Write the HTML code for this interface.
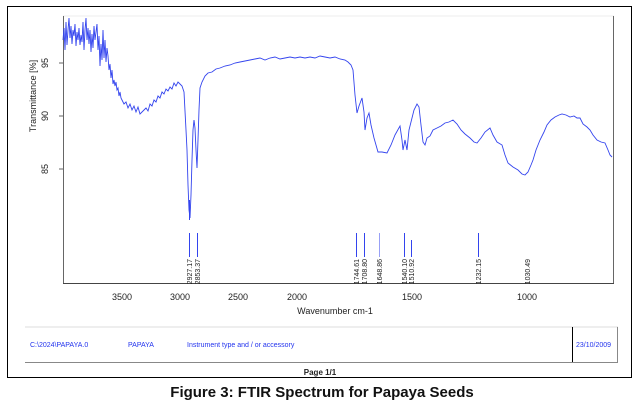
<!DOCTYPE html>
<html><head><style>
body{margin:0;background:#fff;width:640px;height:409px;overflow:hidden;font-family:"Liberation Sans",sans-serif}
</style></head><body>
<svg width="640" height="409" viewBox="0 0 640 409" xmlns="http://www.w3.org/2000/svg" font-family="Liberation Sans, sans-serif">
<rect x="7.5" y="6.5" width="624" height="371" fill="none" stroke="#000" stroke-width="1"/>
<line x1="63" y1="16" x2="614" y2="16" stroke="#eee"/>
<line x1="63.5" y1="16" x2="63.5" y2="283" stroke="#666"/>
<line x1="613.5" y1="16" x2="613.5" y2="283" stroke="#666"/>
<line x1="63" y1="283.5" x2="614" y2="283.5" stroke="#444"/>
<g stroke="#666"><line x1="59" y1="63" x2="63" y2="63"/><line x1="59" y1="116" x2="63" y2="116"/><line x1="59" y1="169" x2="63" y2="169"/></g>
<g font-size="9" fill="#222" text-anchor="middle">
<text transform="translate(48,63) rotate(-90)">95</text>
<text transform="translate(48,116) rotate(-90)">90</text>
<text transform="translate(48,169) rotate(-90)">85</text>
<text transform="translate(36,96) rotate(-90)">Transmittance [%]</text>
<text x="122" y="300">3500</text><text x="180" y="300">3000</text><text x="238" y="300">2500</text>
<text x="297" y="300">2000</text><text x="412" y="300">1500</text><text x="527" y="300">1000</text>
<text x="335" y="314">Wavenumber cm-1</text>
</g>
<polyline fill="none" stroke="#3344ee" stroke-width="0.9" points="
63,40 64,28 65,50 66,22 67,45 68,30 69,18 70,38 71,26 72,44 73,30 74,36 75,24 76,46 77,32 78,40 79,28 80,45 81,35 82,42 83,22 84,50 85,30 86,18 87,40 88,28 89,44 90,30 91,52 92,34 93,48 94,26 95,40 96,32 97,24 98,50 99,36 100,66 101,44 102,60 103,30 104,58 105,40 106,62 107,48 108,56 109,70 110,64 111,78 112,70 113,84 114,80 115,86 116,82 117,90 118,88 119,96 120,92 121,98 122,100 124,104 126,102 128,108 130,104 132,110 134,106 136,112 138,107 140,114 142,112 144,110 146,108 148,111 150,104 152,106 154,100 156,102 158,96 160,98 162,92 164,94 166,89 168,91 170,87 172,89 174,83 176,86 178,82 180,84 182,86 184,92 186,130 187,150 188,185 189,210 190,218 191,195 192,160 193,130 194,120 195,128 196,150 197,168 198,140 199,110 200,88 202,82 205,76 208,73 212,72 216,69 220,68 225,66 230,65 235,63 240,62 245,61 250,60 255,59 260,58 265,60 270,58 275,57 280,59 285,58 290,57 295,58 300,57 305,58 310,57 315,58 320,56 325,57 330,58 335,57 340,59 345,60 348,62 351,65 353,70 355,95 357,113 359,106 362,98 364,112 365,130 367,118 369,113 371,125 374,138 378,152 382,152 387,153 391,145 395,135 400,126 402,140 403,150 405,140 407,150 409,130 412,118 414,110 417,104 419,107 421,125 423,142 425,145 427,138 430,136 433,130 437,128 441,126 445,123 449,122 453,120 457,124 461,130 465,134 470,138 474,142 477,143 481,138 485,132 490,128 493,135 497,142 502,145 505,155 508,163 513,167 518,170 522,174 525,175 528,172 531,165 533,160 536,150 540,140 544,132 547,125 551,120 555,117 559,115 562,114 566,115 570,117 574,116 577,118 580,118 583,124 587,127 590,130 593,135 597,140 601,142 605,143 608,150 610,155 612,157"/>
<g stroke="#3344ee" stroke-width="1">
<line x1="189.5" y1="200" x2="189.5" y2="220"/>
<line x1="189.5" y1="233" x2="189.5" y2="257"/>
<line x1="197.5" y1="233" x2="197.5" y2="257"/>
<line x1="356.5" y1="233" x2="356.5" y2="257"/>
<line x1="364.5" y1="233" x2="364.5" y2="257"/>
<line x1="379.5" y1="233" x2="379.5" y2="257" opacity="0.5"/>
<line x1="404.5" y1="233" x2="404.5" y2="257"/>
<line x1="411.5" y1="240" x2="411.5" y2="257"/>
<line x1="478.5" y1="233" x2="478.5" y2="257"/>
</g>
<g font-size="7" fill="#222" text-anchor="end">
<text transform="translate(192,259) rotate(-90)">2927.17</text>
<text transform="translate(200,259) rotate(-90)">2853.37</text>
<text transform="translate(359,259) rotate(-90)">1744.61</text>
<text transform="translate(367,259) rotate(-90)">1708.80</text>
<text transform="translate(382,259) rotate(-90)">1648.86</text>
<text transform="translate(407,259) rotate(-90)">1540.10</text>
<text transform="translate(414,259) rotate(-90)">1510.92</text>
<text transform="translate(481,259) rotate(-90)">1232.15</text>
<text transform="translate(530,259) rotate(-90)">1030.49</text>
</g>
<line x1="25" y1="327" x2="618" y2="327" stroke="#ddd"/>
<line x1="25" y1="362.5" x2="618" y2="362.5" stroke="#888"/>
<line x1="572.5" y1="327" x2="572.5" y2="362" stroke="#000"/>
<line x1="617.5" y1="327" x2="617.5" y2="362" stroke="#888"/>
<g font-size="7" fill="#2233ee">
<text x="30" y="347">C:\2024\PAPAYA.0</text>
<text x="128" y="347">PAPAYA</text>
<text x="187" y="347">Instrument type and / or accessory</text>
<text x="576" y="347">23/10/2009</text>
</g>
<text x="320" y="375" font-size="8" font-weight="bold" text-anchor="middle" fill="#222">Page 1/1</text>
<text x="322" y="397" font-size="15" font-weight="bold" text-anchor="middle" fill="#111">Figure 3: FTIR Spectrum for Papaya Seeds</text>
</svg>
</body></html>
